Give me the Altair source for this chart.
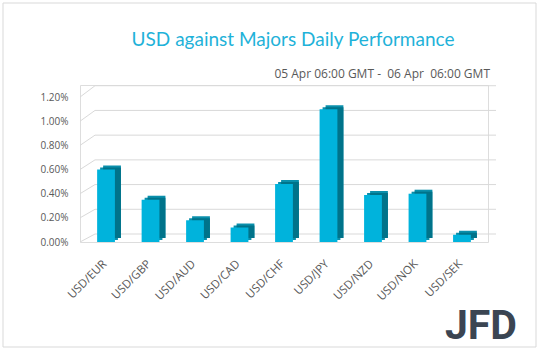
import altair as alt
import pandas as pd

pairs = ["USD/EUR", "USD/GBP", "USD/AUD", "USD/CAD", "USD/CHF", "USD/JPY", "USD/NZD", "USD/NOK", "USD/SEK"]
values = [0.60, 0.35, 0.18, 0.12, 0.48, 1.10, 0.39, 0.40, 0.06]
grid_values = [0.0, 0.2, 0.4, 0.6, 0.8, 1.0, 1.2]

title_text = "USD against Majors Daily Performance"
subtitle_text = "05 Apr 06:00 GMT -\u00a0 06 Apr\u00a0 06:00 GMT"
logo_text = "JFD"

W, H = 408, 157
FRONT = "#00b3dc"
SIDE = "#00738a"
TOP = "#0a8fab"
GRID = "#d9d9d9"
LABEL = "#595959"

df = pd.DataFrame({"pair": pairs, "value": values})
gdf = pd.DataFrame({"v": grid_values})
one = pd.DataFrame({"a": [0]})

yscale = alt.Scale(domain=[0, 1.3], nice=False, zero=True)
xscale = alt.Scale(domain=pairs, paddingInner=0, paddingOuter=0.085)

yaxis = alt.Axis(values=grid_values, labelExpr="format(datum.value, '.2f') + '%'",
                 grid=False, ticks=False, domain=False, labelPadding=12,
                 labelFont="Open Sans", labelFontSize=10, labelColor=LABEL)
xaxis = alt.Axis(labelAngle=-45, labelAlign="right", labelBaseline="middle",
                 labelPadding=20, labelOffset=-1, domain=False, ticks=False,
                 labelFont="Open Sans", labelFontSize=11.5, labelColor=LABEL)


def Y(field):
    return alt.Y(field, scale=yscale, title=None, axis=yaxis)


def X():
    return alt.X("pair:N", scale=xscale, sort=pairs, title=None, axis=xaxis)


grid_base = alt.Chart(gdf).transform_calculate(vb="datum.v * 1.0232 + 0.0662")
grid = grid_base.mark_rule(color=GRID, strokeWidth=1).encode(
    y=Y("vb:Q"),
    x=alt.value(15), x2=alt.value(416),
)
diag = grid_base.mark_rule(color=GRID, strokeWidth=1).encode(
    y=Y("v:Q"),
    y2="vb:Q",
    x=alt.value(0), x2=alt.value(15),
)

bw = alt.RelativeBandSize(0.4)

top1 = alt.Chart(df).mark_bar(color=TOP, width=bw, xOffset=6, x2Offset=6, yOffset=-4, y2Offset=-4).encode(
    x=X(), y=Y("value:Q"), y2=alt.datum(0))
top2 = alt.Chart(df).mark_bar(color=TOP, width=bw, xOffset=3, x2Offset=3, yOffset=-2, y2Offset=-2).encode(
    x=X(), y=Y("value:Q"), y2=alt.datum(0))
side = alt.Chart(df).mark_bar(color=SIDE, width=bw, xOffset=6, x2Offset=6, yOffset=-2, y2Offset=-4).encode(
    x=X(), y=Y("value:Q"), y2=alt.datum(0))
front = alt.Chart(df).mark_bar(color=FRONT, width=bw).encode(
    x=X(), y=Y("value:Q"), y2=alt.datum(0))

frame = alt.Chart(one).mark_rect(fill=None, stroke=GRID, strokeWidth=1).encode(
    x=alt.value(-77), x2=alt.value(456), y=alt.value(-82), y2=alt.value(262))

title = alt.Chart(one).mark_text(text=title_text, font="Lato", fontSize=19, color="#1fb2d9",
                                  align="center", baseline="middle").encode(
    x=alt.value(213), y=alt.value(-45))
subtitle = alt.Chart(one).mark_text(text=subtitle_text, font="Open Sans", fontSize=12, color=LABEL,
                                     align="right", baseline="middle").encode(
    x=alt.value(410), y=alt.value(-11))
logo = alt.Chart(one).mark_text(text=logo_text, font="Roboto", fontWeight="bold", fontSize=41,
                                 color="#3b4552", align="right", baseline="alphabetic").encode(
    x=alt.value(437), y=alt.value(254))

chart = alt.layer(frame, grid, diag, top1, top2, side, front, title, subtitle, logo).properties(
    width=W, height=H,
    autosize=alt.AutoSizeParams(type="none"),
    padding={"left": 80, "top": 85, "right": 50, "bottom": 109},
).configure_view(stroke=None).configure(background="white")

chart.save("out.html", embed_options={"renderer": "svg", "actions": False})
